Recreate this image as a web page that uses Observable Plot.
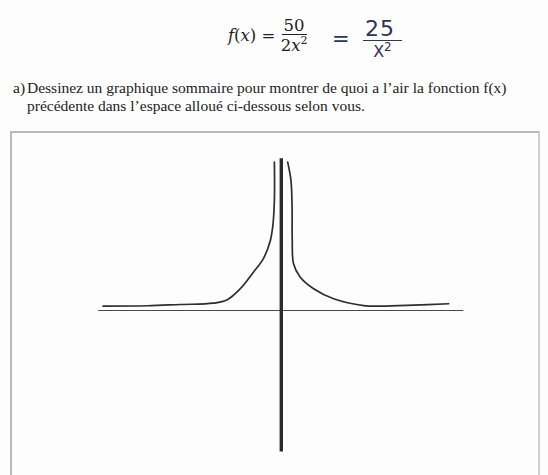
<!DOCTYPE html>
<html>
<head>
<meta charset="utf-8">
<script src="https://cdn.jsdelivr.net/npm/d3@7"></script>
<script src="https://cdn.jsdelivr.net/npm/@observablehq/plot@0.6"></script>
<style>
  html, body { margin: 0; padding: 0; background: #fff; }
  #page { position: relative; width: 548px; height: 475px; overflow: hidden; background: #fdfdfd; }
  .abs { position: absolute; }
  .serif { font-family: "Liberation Serif", "DejaVu Serif", serif; color: #222; }
  .frac { display: inline-flex; flex-direction: column; align-items: center; vertical-align: middle; }
  .frac .num { padding: 0 2px; border-bottom: 1px solid #222; line-height: 1.05; }
  .frac .den { line-height: 1.1; }
  #formula { left: 228px; top: 17px; font-family: "DejaVu Serif", serif; font-size: 16.5px; color: #222; display: flex; align-items: center; }
  #formula i { font-style: italic; }
  #hand { left: 332px; top: 17px; font-family: "DejaVu Sans", sans-serif; color: #2f3550; font-size: 21px; display: flex; align-items: center; }
  #hand .frac .num { border-bottom: 1.5px solid #2f3550; letter-spacing: 1px; padding: 0 7px 0 2px; font-size: 22px; }
  #hand .frac .den { font-size: 16px; }
  #q { left: 13px; top: 79px; font-size: 15.5px; line-height: 18px; }
  #q .lab { display: inline-block; width: 14px; }
  #box { left: 10px; top: 131px; width: 526px; height: 400px; border: 2px solid #b9b9b9; border-right-color: #cfcfcf; }
  #chart { left: 0; top: 128px; }
</style>
</head>
<body>
<div id="page">
  <div id="formula" class="abs"><i>f</i>(<i>x</i>)&nbsp;=&nbsp;<span class="frac"><span class="num">50</span><span class="den">2<i>x</i><sup style="font-size:11px">2</sup></span></span></div>
  <div id="hand" class="abs">=&nbsp;&nbsp;<span class="frac"><span class="num">25</span><span class="den">X<sup style="font-size:12px">2</sup></span></span></div>
  <div id="q" class="abs serif"><span class="lab">a)</span>Dessinez un graphique sommaire pour montrer de quoi a l’air la fonction f(x)<br><span class="lab"></span>précédente dans l’espace alloué ci-dessous selon vous.</div>
  <div id="box" class="abs"></div>
  <div id="chart" class="abs"></div>
</div>
<script>
// Sketch of f(x) = 25 / x², in sketch units (axis crossing at 0,0)
const leftX  = [-0.977, -0.734, -0.553, -0.373, -0.296, -0.225, -0.153, -0.099, -0.060, -0.045, -0.038, -0.037, -0.038];
const leftY  = [ 0.024,  0.026,  0.033,  0.040,  0.059,  0.119,  0.210,  0.283,  0.384,  0.477,  0.603,  0.712,  0.813];
const rightX = [ 0.035,  0.053,  0.059,  0.060,  0.067,  0.104,  0.177,  0.287,  0.451,  0.542,  0.725,  0.917];
const rightY = [ 0.813,  0.712,  0.566,  0.384,  0.256,  0.182,  0.119,  0.064,  0.027,  0.024,  0.029,  0.037];

// Extents of the hand-drawn axes
const xAxisExtent = [-1, 1];
const yAxisExtent = [-0.776, 0.831];

const branch = (xs, ys) => xs.map((x, i) => ({x, y: ys[i]}));
const leftBranch = branch(leftX, leftY);
const rightBranch = branch(rightX, rightY);

const ink = "#2e2e2e";

const chart = Plot.plot({
  width: 548,
  height: 347,
  margin: 0,
  x: {domain: [-1, 1], range: [98.3, 463.3], axis: null},
  y: {domain: [-1, 1], range: [364.5, -0.5], axis: null},
  style: {background: "transparent", overflow: "visible"},
  marks: [
    // horizontal axis
    Plot.ruleY([0], {x1: xAxisExtent[0], x2: xAxisExtent[1], stroke: "#4a4a4a", strokeWidth: 1.2}),
    // vertical axis, drawn heavily
    Plot.ruleX([0], {y1: yAxisExtent[0], y2: yAxisExtent[1], stroke: "#2a2a2a", strokeWidth: 3.4}),
    // two branches of the curve
    Plot.line(leftBranch, {x: "x", y: "y", curve: "catmull-rom", stroke: ink, strokeWidth: 1.7}),
    Plot.line(rightBranch, {x: "x", y: "y", curve: "catmull-rom", stroke: ink, strokeWidth: 1.7})
  ]
});
document.getElementById("chart").append(chart);
</script>
</body>
</html>
